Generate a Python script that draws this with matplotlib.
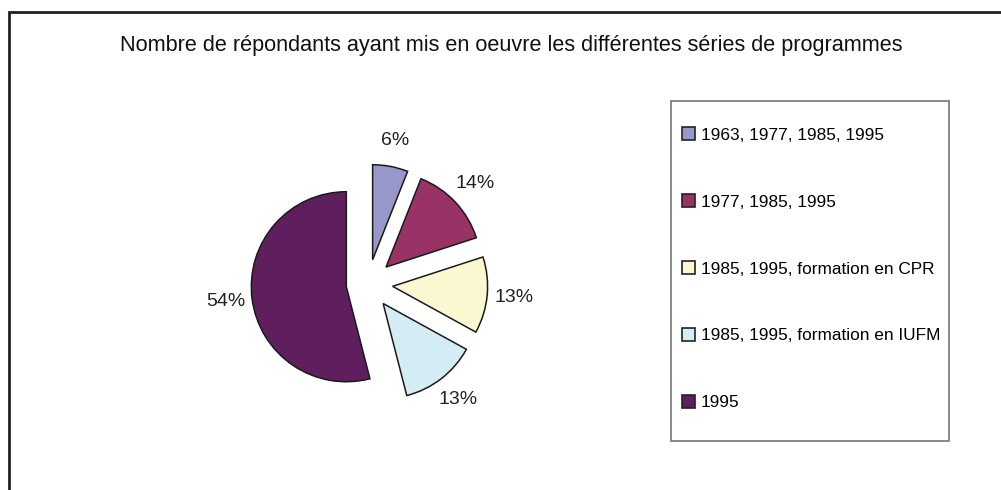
import matplotlib.pyplot as plt
from matplotlib.patches import Patch, Rectangle

# ---------------- data ----------------
series_labels = [
    "1963, 1977, 1985, 1995",
    "1977, 1985, 1995",
    "1985, 1995, formation en CPR",
    "1985, 1995, formation en IUFM",
    "1995",
]
shares = [6, 14, 13, 13, 54]
slice_colors = ["#9797CA", "#993366", "#FAF8D0", "#D4EDF4", "#5F1F5F"]
explode = [0.26, 0.26, 0.26, 0.26, 0.23]

title = "Nombre de répondants ayant mis en oeuvre les différentes séries de programmes"

plt.rcParams["font.family"] = ["Liberation Sans", "DejaVu Sans"]

W, H = 1001, 490
fig = plt.figure(figsize=(W / 100, H / 100), dpi=100)

# outer chart frame (runs off the right and bottom edge)
fig.patches.append(Rectangle((9 / W, -0.1), 1.2, 1.1 - 12 / H,
                             transform=fig.transFigure, fill=False,
                             edgecolor="#231f20", lw=2.0))

fig.text(511 / W, 1 - 45 / H, title, ha="center", va="center",
         fontsize=15.6, color="#111111")

# pie axes: 300x300 px box centred at (368, 284), radius 1 -> 95 px
cx, cy, box = 368, 284, 300
ax = fig.add_axes([(cx - box / 2) / W, 1 - (cy + box / 2) / H, box / W, box / H])
lim = box / 2 / 95
ax.set_aspect("equal")
ax.axis("off")

wedges, texts, autotexts = ax.pie(
    shares, colors=slice_colors, explode=explode, startangle=90,
    counterclock=False, autopct="%.0f%%", pctdistance=1.28,
    wedgeprops=dict(edgecolor="#1a1a1a", linewidth=1.1),
    textprops=dict(fontsize=14, color="#222222"), frame=False,
)
ax.set_xlim(-lim, lim)
ax.set_ylim(-lim, lim)

# legend box
x0, y0, x1, y1 = 671, 101, 949, 441
fig.patches.append(Rectangle((x0 / W, 1 - y1 / H), (x1 - x0) / W, (y1 - y0) / H,
                             transform=fig.transFigure, fill=False,
                             edgecolor="#808080", lw=1.3))

handles = [Patch(facecolor=c, edgecolor="#222222", lw=1.2) for c in slice_colors]
fig.legend(handles, series_labels, loc="upper left",
           bbox_to_anchor=(682 / W, 1 - 127.5 / H), frameon=False,
           fontsize=12.4, labelspacing=2.98, handlelength=0.78, handleheight=0.78,
           handletextpad=0.3, borderpad=0.0, borderaxespad=0.0)

fig.savefig("out.png", dpi=100, facecolor="white")
